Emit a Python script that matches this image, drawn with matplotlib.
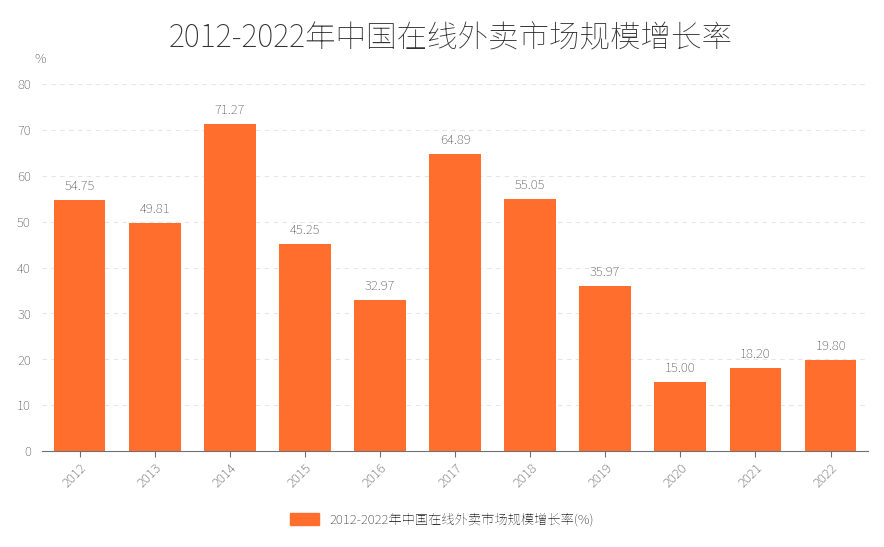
import matplotlib
matplotlib.use("Agg")
import matplotlib.pyplot as plt
from matplotlib import font_manager as fm
from matplotlib.patches import Patch

cjk = None
for f in fm.findSystemFonts():
    if "NotoSansCJK" in f.replace(" ", "") or "NotoSansSC" in f or "CJK" in f:
        try:
            fm.fontManager.addfont(f)
            name = fm.FontProperties(fname=f).get_name()
            if cjk is None or "SC" in name:
                cjk = name
        except Exception:
            pass
plt.rcParams["font.family"] = [n for n in [cjk, "Noto Sans CJK SC", "DejaVu Sans"] if n]

years = ["2012", "2013", "2014", "2015", "2016", "2017", "2018", "2019", "2020", "2021", "2022"]
rates = [54.75, 49.81, 71.27, 45.25, 32.97, 64.89, 55.05, 35.97, 15.00, 18.20, 19.80]
yticks = [0, 10, 20, 30, 40, 50, 60, 70, 80]
series_name = "2012-2022年中国在线外卖市场规模增长率(%)"
title = "2012-2022年中国在线外卖市场规模增长率"

color = "#FF6E2C"
fig = plt.figure(figsize=(8.84, 5.47), dpi=100)
ax = fig.add_axes([0.0475, 0.1755, 0.9345, 0.6705])
x = range(len(years))
ax.bar(x, rates, width=0.69, color=color, zorder=3)
for xi, v in zip(x, rates):
    ax.text(xi, v + 1.5, f"{v:.2f}", ha="center", va="bottom", fontsize=9.5, color="#555555")
ax.set_xlim(-0.5, len(years) - 0.5)
ax.set_ylim(0, 80)
ax.set_yticks(yticks)
ax.set_yticklabels([str(t) for t in yticks], fontsize=9.5, color="#555555")
ax.set_xticks(list(x))
ax.set_xticklabels(years, rotation=45, fontsize=9.5, color="#555555", ha="right", rotation_mode="anchor")
ax.yaxis.grid(True, linestyle=(0, (4, 4)), color="#E3E6EE", zorder=0)
for s in ["top", "right", "left"]:
    ax.spines[s].set_visible(False)
ax.spines["bottom"].set_color("#6E7079")
ax.tick_params(axis="y", length=0, pad=8)
ax.tick_params(axis="x", length=4, color="#6E7079")
fig.text(0.045, 0.885, "%", fontsize=9.5, color="#555555", ha="center")
fig.text(0.51, 0.93, title, fontsize=22, color="#333333", ha="center", va="center")
fig.legend(handles=[Patch(color=color)], labels=[series_name], loc="center",
           bbox_to_anchor=(0.5, 0.05), frameon=False, fontsize=9.5, handlelength=2.2,
           handleheight=1.0, labelcolor="#333333")
fig.savefig("out.png", dpi=100)
